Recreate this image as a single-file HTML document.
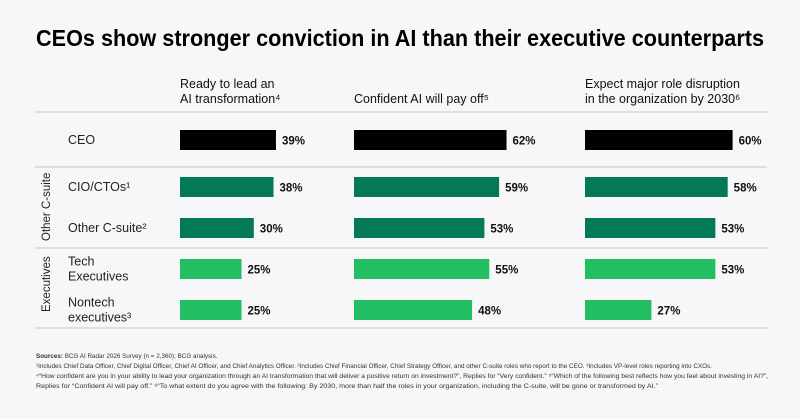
<!DOCTYPE html>
<html><head><meta charset="utf-8"><style>
html,body{margin:0;padding:0;background:#f7f7f9;}
svg{display:block;font-family:"Liberation Sans",sans-serif;}
</style></head><body>
<svg id="chart" width="800" height="419" viewBox="0 0 800 419">
<rect width="800" height="419" fill="#f7f7f9"/>
<text x="36" y="46" font-size="23" font-weight="bold" fill="#000" textLength="728" lengthAdjust="spacingAndGlyphs">CEOs show stronger conviction in AI than their executive counterparts</text>
<g id="headers" font-size="12.5" fill="#111"></g>
<g id="lines"></g>
<g id="bars"></g>
<g font-size="11.5" fill="#222">
<text transform="translate(50,241) rotate(-90)">Other C-suite</text>
<text transform="translate(50,312) rotate(-90)">Executives</text>
</g>
<g font-size="6.3" fill="#333">
<text x="36" y="358"><tspan font-weight="bold">Sources:</tspan> BCG AI Radar 2026 Survey (n = 2,360); BCG analysis.</text>
<text x="36" y="368" textLength="676" lengthAdjust="spacingAndGlyphs">¹Includes Chief Data Officer, Chief Digital Officer, Chief AI Officer, and Chief Analytics Officer. ²Includes Chief Financial Officer, Chief Strategy Officer, and other C-suite roles who report to the CEO. ³Includes VP-level roles reporting into CXOs.</text>
<text x="36" y="378" textLength="732" lengthAdjust="spacingAndGlyphs">⁴“How confident are you in your ability to lead your organization through an AI transformation that will deliver a positive return on investment?”, Replies for “Very confident.” ⁵“Which of the following best reflects how you feel about investing in AI?”,</text>
<text x="36" y="388" textLength="622" lengthAdjust="spacingAndGlyphs">Replies for “Confident AI will pay off.” ⁶“To what extent do you agree with the following: By 2030, more than half the roles in your organization, including the C-suite, will be gone or transformed by AI.”</text>
</g>
</svg>
<script>
const categories = ["CEO","CIO/CTOs¹","Other C-suite²","Tech|Executives","Nontech|executives³"];
const metrics = ["Ready to lead an|AI transformation⁴","Confident AI will pay off⁵","Expect major role disruption|in the organization by 2030⁶"];
const readyValues = [39,38,30,25,25];
const payoffValues = [62,59,53,55,48];
const disruptionValues = [60,58,53,53,27];
const series = [readyValues, payoffValues, disruptionValues];
const colors = ["#000000","#037a55","#037a55","#22bf62","#22bf62"];

const NS = "http://www.w3.org/2000/svg";
const colX = [180,354,585];
const rowY = [130,177,218,259,300];
const barH = 20;
const pxPer = 2.46;
const x = (c,v) => colX[c] + v*pxPer;

function mk(tag, attrs, parent, text){
  const e = document.createElementNS(NS, tag);
  for (const k in attrs) e.setAttribute(k, attrs[k]);
  if (text !== undefined) e.textContent = text;
  parent.appendChild(e); return e;
}
const hdr = document.getElementById('headers');
metrics.forEach((m,i)=>{
  const lines = m.split('|');
  const t = mk('text',{x:colX[i], y: 103 - (lines.length-1)*15}, hdr);
  
  
  lines.forEach((l,j)=>{ mk('tspan',{x:colX[i], dy: j?15:0}, t, l); });
});
const ln = document.getElementById('lines');
[112,167,248,328].forEach(y=>{
  const l = mk('line',{x1:35,x2:767,y1:y,y2:y,stroke:'#d6d6da','stroke-width':1.5}, ln);
  
  
});
const bg = document.getElementById('bars');
categories.forEach((c,r)=>{
  const lines = c.split('|');
  const cy = rowY[r] + barH/2;
  const t = mk('text',{x:68, y: cy + 4 - (lines.length-1)*7.5, 'font-size':12.5, fill:'#222'}, bg);
  
  
  lines.forEach((l,j)=>{ mk('tspan',{x:68, dy: j?15:0}, t, l); });
  series.forEach((vals,ci)=>{
    const v = vals[r];
    const b = mk('rect',{x:colX[ci], y:rowY[r], width:x(ci,v)-colX[ci], height:barH, fill:colors[r]}, bg);
    
    
    const lab = mk('text',{x:x(ci,v)+6, y:cy+4.5, 'font-size':11.5, 'font-weight':'bold', fill:'#111'}, bg, v+'%');
    
    
  });
});
</script>
</body></html>
